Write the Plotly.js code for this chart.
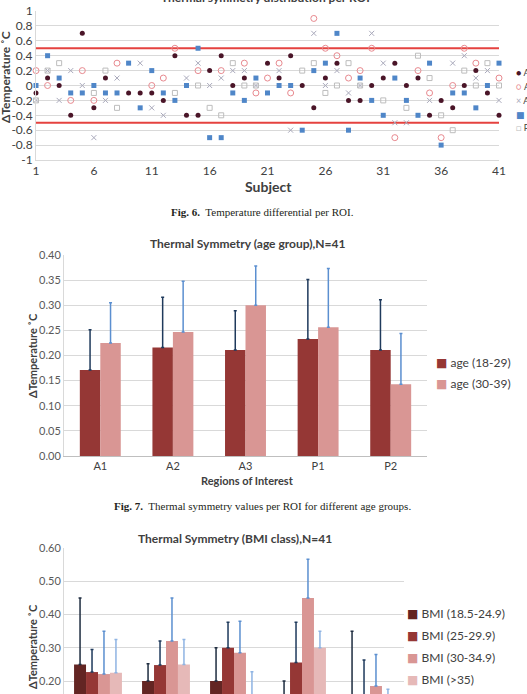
<!DOCTYPE html>
<html><head><meta charset="utf-8">
<script src="https://cdn.plot.ly/plotly-3.0.1.min.js"></script>
<style>html,body{margin:0;padding:0;background:#fff;overflow:hidden}</style>
</head><body><div id="chart" style="width:527px;height:694px"></div>
<script>
// ---------- Fig. 6 data (scatter) ----------
const subjects = [1,2,3,4,5,6,7,8,9,10,11,12,13,14,15,16,17,18,19,20,21,22,23,24,25,26,27,28,29,30,31,32,33,34,35,36,37,38,39,40,41];
const subjectTicks = [1,6,11,16,21,26,31,36,41];
const yTicks1 = [-1,-0.8,-0.6,-0.4,-0.2,0,0.2,0.4,0.6,0.8,1];
const roiNames = ['A1','A2','A3','P1','P2'];
const valsA1 = [-0.1,0.1,0,-0.4,0.7,-0.3,0.1,null,-0.1,-0.1,-0.1,-0.2,0.4,-0.4,-0.4,0.2,0.4,0,0.1,null,0.3,0.1,0.4,0,-0.3,0.1,0.3,-0.2,-0.2,0,0.1,0.3,0,0.1,-0.4,-0.2,-0.3,0,0.2,-0.1,-0.4];
const valsA2 = [0.2,0,null,-0.2,0.2,-0.2,null,0.3,null,null,0,0.1,0.5,null,0.2,null,0.2,null,0.3,-0.1,0.1,0.3,-0.1,null,0.9,0.5,0.4,0.1,0.2,0.5,null,-0.7,null,0.2,-0.1,-0.7,0,0.5,0.3,null,0.1];
const valsA3 = [-0.2,0.2,-0.2,0.2,0,-0.7,-0.2,0.1,null,0.3,-0.3,-0.4,null,0.1,0.3,0,0.1,0.2,0.2,0,null,0.2,-0.6,null,0.7,0,0.2,-0.1,0,0.7,0.3,-0.5,-0.5,null,-0.2,null,0.3,0.4,0.1,0.2,-0.2];
const valsP1 = [0,0.4,0.1,-0.1,-0.1,0,-0.1,-0.1,0.3,-0.3,0.2,-0.1,-0.2,0,0.5,-0.7,-0.7,-0.1,-0.2,0.1,-0.1,0,0,-0.6,0.2,0.3,0.7,-0.6,0.1,-0.2,-0.4,0.1,-0.2,-0.4,0.3,-0.8,-0.1,-0.1,-0.3,0,0.3];
const valsP2 = [-0.2,0.2,0.3,null,null,-0.1,0.2,-0.3,null,null,null,null,-0.1,null,0,-0.3,-0.4,0.3,0,0,null,null,null,0.2,0.3,-0.1,0,0.3,0,null,-0.2,null,-0.3,0.4,0.1,-0.4,-0.6,0.2,0,0.3,0];
const limitValues = [0.5,-0.5];

// ---------- Fig. 7 data (age groups) ----------
const rois = ['A1','A2','A3','P1','P2'];
const ageGroups = ['age (18-29)','age (30-39)'];
const age1829 = [0.171,0.216,0.211,0.233,0.211];
const age1829Err = [0.080,0.100,0.078,0.118,0.100];
const age3039 = [0.225,0.247,0.300,0.256,0.143];
const age3039Err = [0.080,0.101,0.078,0.117,0.101];

// ---------- BMI chart data ----------
const bmiClasses = ['BMI (18.5-24.9)','BMI (25-29.9)','BMI (30-34.9)','BMI (>35)'];
const bmi1 = [0.25,0.20,0.20,0.10,0.14];
const bmi1Err = [0.20,0.052,0.10,0.10,0.21];
const bmi2 = [0.227,0.248,0.30,0.256,0.13];
const bmi2Err = [0.068,0.072,0.077,0.121,0.133];
const bmi3 = [0.221,0.32,0.285,0.45,0.185];
const bmi3Err = [0.129,0.13,0.095,0.116,0.095];
const bmi4 = [0.225,0.25,0.13,0.30,0.09];
const bmi4Err = [0.10,0.075,0.098,0.05,0.085];

// ---------- helpers ----------
const W = 527, H = 694;
const P = x => x / W;
const Q = y => 1 - y / H;
const zeros = a => a.map(() => 0);

const scatterStyles = [
  {symbol:'circle', size:5, color:'#4a1528', line:{width:0}},
  {symbol:'circle-open', size:6, color:'#e8898f', line:{width:1}},
  {symbol:'x-thin-open', size:5, color:'#a9a9bb', line:{width:1}},
  {symbol:'square', size:5, color:'#4f86c8', line:{width:0}},
  {symbol:'square-open', size:5, color:'#bdbdbd', line:{width:1}}
];
const scatterVals = [valsA1, valsA2, valsA3, valsP1, valsP2];
const legendGlyphs = ['●','○','×','■','□'];

const traces = [];
scatterVals.forEach((v, i) => {
  traces.push({type:'scatter', mode:'markers', x:subjects, y:v, name:roiNames[i],
    xaxis:'x', yaxis:'y', cliponaxis:false, marker:scatterStyles[i], hoverinfo:'x+y+name'});
});

const ageColors = ['#953735','#d99694'];
const ageErrColors = ['#1f3a5c','#5b8fd0'];
[[age1829, age1829Err],[age3039, age3039Err]].forEach((d, i) => {
  traces.push({type:'bar', x:rois, y:d[0], name:ageGroups[i], xaxis:'x2', yaxis:'y2',
    width:0.282, offset:-0.282 + i*0.282, marker:{color:ageColors[i]},
    error_y:{type:'data', symmetric:false, array:d[1], arrayminus:zeros(d[1]), color:ageErrColors[i], thickness:1.5, width:1.5}});
});

const bmiColors = ['#632523','#953735','#d99694','#e6b9b8'];
const bmiErrColors = ['#1f2d40','#1f3a5c','#5b8fd0','#8fb4e3'];
[[bmi1,bmi1Err],[bmi2,bmi2Err],[bmi3,bmi3Err],[bmi4,bmi4Err]].forEach((d, i) => {
  traces.push({type:'bar', x:rois, y:d[0], name:bmiClasses[i], xaxis:'x3', yaxis:'y3',
    width:0.176, offset:-0.352 + i*0.176, marker:{color:bmiColors[i]},
    error_y:{type:'data', symmetric:false, array:d[1], arrayminus:zeros(d[1]), color:bmiErrColors[i], thickness:1.5, width:1.5}});
});

const txt = '#404040';
const ann = [];
function A(text, x, y, size, extra) {
  ann.push(Object.assign({text:text, x:P(x), y:Q(y), xref:'paper', yref:'paper', showarrow:false,
    xanchor:'center', yanchor:'middle', font:{size:size, color:txt, family:'Lato, DejaVu Sans, sans-serif'}}, extra || {}));
}
A('<b>Thermal symmetry distribution per ROI</b>', 265, -3, 12);
A('<b>ΔTemperature ˚C</b>', 5, 77, 12, {textangle:-90});
A('<b>Subject</b>', 268, 186, 14);
A('<b>Fig. 6.</b>&nbsp; Temperature differential per ROI.', 262, 212, 11, {font:{size:11, color:'#231f20', family:'Liberation Serif, DejaVu Serif, serif'}});

A('<b>Thermal Symmetry (age group),N=41</b>', 247, 244, 12);
A('<b>ΔTemperature ˚C</b>', 32, 356, 11, {textangle:-90});
A('<b>Regions of Interest</b>', 247, 481, 11);
A('<b>Fig. 7.</b>&nbsp; Thermal symmetry values per ROI for different age groups.', 262, 506, 11, {font:{size:11, color:'#231f20', family:'Liberation Serif, DejaVu Serif, serif'}});

A('<b>Thermal Symmetry (BMI class),N=41</b>', 235, 538, 12);
A('<b>ΔTemperature ˚C</b>', 32, 647, 11, {textangle:-90});

// legends
roiNames.forEach((n, i) => {
  A('<span style="color:' + scatterStyles[i].color + '">' + legendGlyphs[i] + '</span> ' + n, 514, 73 + i*13.7, 9, {xanchor:'left'});
});
ageGroups.forEach((n, i) => {
  A('<span style="color:' + ageColors[i] + '">■</span> ' + n, 434, 362 + i*21, 12, {xanchor:'left'});
});
bmiClasses.forEach((n, i) => {
  A('<span style="color:' + bmiColors[i] + '">■</span> ' + n, 405, 613 + i*22, 12, {xanchor:'left'});
});

const grid = '#d9d9d9';
const layout = {
  width:W, height:H, margin:{l:0,r:0,t:0,b:0}, autosize:false,
  paper_bgcolor:'#ffffff', plot_bgcolor:'rgba(0,0,0,0)', showlegend:false, barmode:'overlay',
  font:{family:'Lato, DejaVu Sans, sans-serif', color:txt},
  xaxis:{domain:[P(36),P(499)], range:[1,41], tickvals:subjectTicks, showgrid:false, zeroline:false,
    showline:true, linecolor:grid, ticks:'', tickfont:{size:12, color:txt}, anchor:'y', fixedrange:true},
  yaxis:{domain:[Q(160),Q(11)], range:[-1,1], tickvals:yTicks1, ticktext:yTicks1.map(String),
    gridcolor:grid, zeroline:false, showline:true, linecolor:grid, ticks:'', tickfont:{size:12, color:txt}, anchor:'x', fixedrange:true},
  xaxis2:{domain:[P(64),P(427)], type:'category', anchor:'y2', showgrid:false, zeroline:false,
    showline:true, linecolor:'#bfbfbf', ticks:'', tickfont:{size:11, color:txt}},
  yaxis2:{domain:[Q(456),Q(255)], range:[0,0.4], tick0:0, dtick:0.05, tickformat:'.2f', anchor:'x2',
    gridcolor:grid, zeroline:false, showline:true, linecolor:grid, ticks:'', tickfont:{size:11, color:'#595959'}},
  xaxis3:{domain:[P(64),P(404)], type:'category', anchor:'y3', showgrid:false, zeroline:false,
    showline:true, linecolor:'#bfbfbf', ticks:'', showticklabels:false},
  yaxis3:{domain:[0,Q(548)], range:[0.161,0.6], tick0:0, dtick:0.1, tickformat:'.2f', anchor:'x3',
    gridcolor:grid, zeroline:false, showline:true, linecolor:grid, ticks:'', tickfont:{size:11, color:'#595959'}},
  shapes: limitValues.map(v => ({type:'line', xref:'x domain', yref:'y', x0:0, x1:1, y0:v, y1:v,
    line:{color:'#e5423f', width:2}, layer:'below'})),
  annotations: ann
};
Plotly.newPlot('chart', traces, layout, {displayModeBar:false, staticPlot:true});
</script></body></html>
